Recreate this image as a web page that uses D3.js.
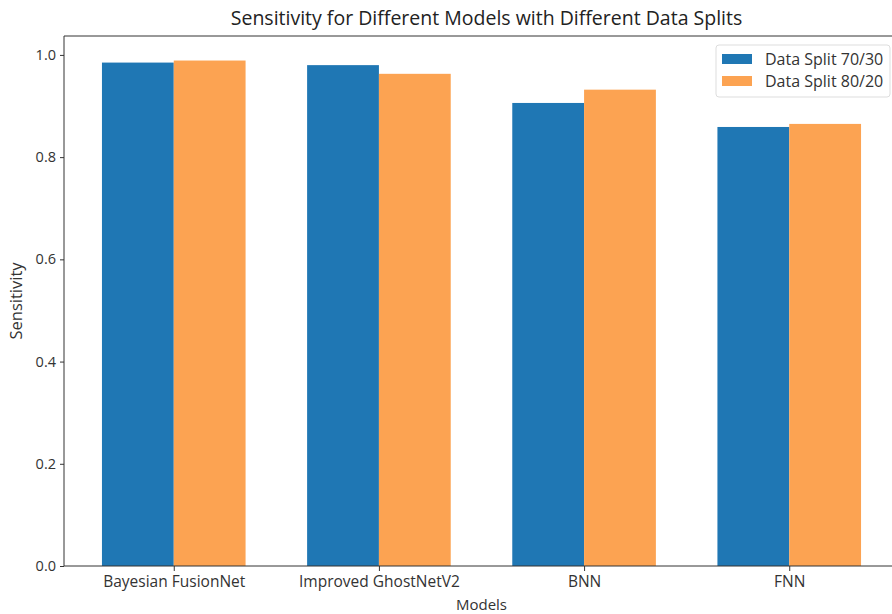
<!DOCTYPE html>
<html>
<head>
<meta charset="utf-8">
<script src="https://cdn.jsdelivr.net/npm/d3@7"></script>
<style>
  html, body { margin: 0; background: #fff; overflow: hidden; }
  svg { display: block; font-family: "Open Sans", sans-serif; }
</style>
</head>
<body>
<svg id="chart" width="892" height="614"></svg>
<script>
const categories = ["Bayesian FusionNet", "Improved GhostNetV2", "BNN", "FNN"];
const seriesNames = ["Data Split 70/30", "Data Split 80/20"];
const split7030 = [0.985, 0.980, 0.906, 0.859];
const split8020 = [0.989, 0.963, 0.932, 0.865];
const yTicks = [0.0, 0.2, 0.4, 0.6, 0.8, 1.0];
const colors = ["#1f77b4", "#fca352"];

(function () {
const svg = d3.select("#chart");
const mL = 64, mR = 899, mT = 36, mB = 566;
const barW = 0.35;
const FONT = "Open Sans, sans-serif";

const x = d3.scaleLinear().domain([-0.535, 3.535]).range([mL, mR]);
const y = d3.scaleLinear().domain([0, 1.037]).range([mB, mT]);

const series = [split7030, split8020];
series.forEach((vals, s) => {
  svg.append("g").selectAll("rect").data(vals).join("rect")
    .attr("x", (d, i) => x(i + (s === 0 ? -barW : 0)))
    .attr("width", x(barW) - x(0))
    .attr("y", d => y(d))
    .attr("height", d => y(0) - y(d))
    .attr("fill", colors[s]);
});

const yAxis = d3.axisLeft(y).tickValues(yTicks).tickFormat(d3.format(".1f")).tickSize(4).tickPadding(4);
const gy = svg.append("g").attr("transform", `translate(${mL},0)`).call(yAxis);
gy.select(".domain").remove();
gy.selectAll("text").attr("font-size", 14.5);
const xAxis = d3.axisBottom(x).tickValues(d3.range(categories.length)).tickFormat(i => categories[i]).tickSize(5).tickPadding(5);
const gx = svg.append("g").attr("transform", `translate(0,${mB})`).call(xAxis);
gx.select(".domain").remove();
gx.selectAll("text").attr("font-size", 15.5);
[gx, gy].forEach(g => {
  g.selectAll("text").attr("fill", "#333").attr("font-family", FONT);
  g.selectAll("line").attr("stroke", "#333");
});

svg.append("line").attr("x1", mL).attr("x2", mL).attr("y1", mT).attr("y2", mB).attr("stroke", "#333");
svg.append("line").attr("x1", mL).attr("x2", mR).attr("y1", mT).attr("y2", mT).attr("stroke", "#333");
svg.append("line").attr("x1", mL).attr("x2", mR).attr("y1", mB).attr("y2", mB).attr("stroke", "#333");

svg.append("text").attr("x", (mL + mR) / 2 + 5).attr("y", 25).attr("text-anchor", "middle")
  .attr("font-size", 19.5).attr("fill", "#222").attr("font-family", FONT)
  .text("Sensitivity for Different Models with Different Data Splits");
svg.append("text").attr("x", (mL + mR) / 2).attr("y", 610).attr("text-anchor", "middle")
  .attr("font-size", 15).attr("fill", "#333").attr("font-family", FONT).text("Models");
svg.append("text").attr("transform", `translate(22,${(mT + mB) / 2}) rotate(-90)`).attr("text-anchor", "middle")
  .attr("font-size", 16.5).attr("fill", "#333").attr("font-family", FONT).text("Sensitivity");

const lg = svg.append("g");
lg.append("rect").attr("x", 716).attr("y", 45).attr("width", 174).attr("height", 52).attr("rx", 3)
  .attr("fill", "#fff").attr("fill-opacity", 0.8).attr("stroke", "#ddd");
seriesNames.forEach((n, i) => {
  lg.append("rect").attr("x", 722).attr("y", 54 + i * 22).attr("width", 30).attr("height", 10).attr("fill", colors[i]);
  lg.append("text").attr("x", 765).attr("y", 65 + i * 22).attr("font-size", 16).attr("fill", "#333")
    .attr("font-family", FONT).text(n);
});
})();
</script>
</body>
</html>
